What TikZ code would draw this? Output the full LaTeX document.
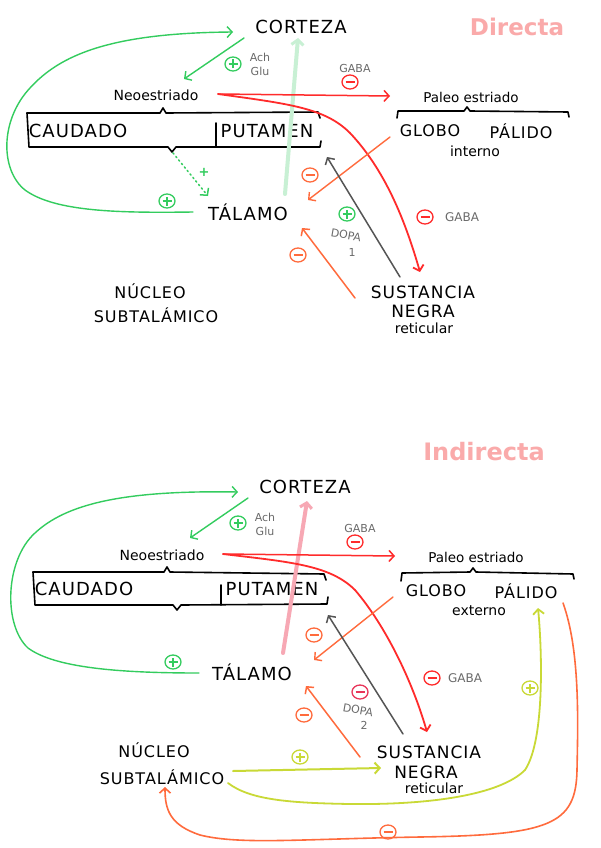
\documentclass[tikz,border=0pt]{standalone}
\usepackage{fontspec}
\setmainfont{DejaVu Sans}
\newfontfamily\capsf[LetterSpace=6]{DejaVu Sans}
\usetikzlibrary{arrows.meta,shapes.geometric}
\definecolor{cgreen}{HTML}{33CC5E}
\definecolor{cpale}{HTML}{C8F0D4}
\definecolor{cred}{HTML}{FF2B2B}
\definecolor{corange}{HTML}{FF6B3D}
\definecolor{cgrayline}{HTML}{555555}
\definecolor{cgraytext}{HTML}{6A6A6A}
\definecolor{cpinkt}{HTML}{FAAAAA}
\definecolor{cpinka}{HTML}{F7A8B4}
\definecolor{cyg}{HTML}{C9D936}
\definecolor{ccrim}{HTML}{E8365A}
\begin{document}
\begin{tikzpicture}[x=1pt,y=-1pt,
  capL/.style={font=\capsf\fontsize{18}{20}\selectfont,inner sep=0pt},
  capM/.style={font=\capsf\fontsize{17}{19}\selectfont,inner sep=0pt},
  capS/.style={font=\capsf\fontsize{16}{18}\selectfont,inner sep=0pt},
  txt/.style={font=\fontsize{14}{16}\selectfont,inner sep=0pt},
  lbl/.style={font=\fontsize{11}{12}\selectfont,text=cgraytext,inner sep=0pt},
  ttl/.style={font=\bfseries\fontsize{23}{25}\selectfont,text=cpinkt,inner sep=0pt},
  brc/.style={line width=1.6pt,line join=round,line cap=round},
  arr/.style={line width=#1,line cap=round,-{Straight Barb[length=5pt,width=11pt]}},
  sgn/.style={draw=#1,line width=1.3pt,ellipse,minimum width=16pt,minimum height=14pt,inner sep=0pt},
  plusn/.style={sgn=#1,path picture={\draw[#1,line width=1.2pt]
      ([xshift=-4.5pt]path picture bounding box.center) -- ([xshift=4.5pt]path picture bounding box.center)
      ([yshift=-4.5pt]path picture bounding box.center) -- ([yshift=4.5pt]path picture bounding box.center);}},
  minusn/.style={sgn=#1,path picture={\draw[#1,line width=1.2pt]
      ([xshift=-4.5pt]path picture bounding box.center) -- ([xshift=4.5pt]path picture bounding box.center);}}
]
\fill[white] (0,0) rectangle (600,848);
\useasboundingbox (0,0) rectangle (600,848);

%================ DIRECTA ================
\node[capL] (cort1) at (301,27) {CORTEZA};
\node[ttl] (dir) at (517,27) {Directa};
\node[txt] (neo1) at (156,95) {Neoestriado};
\node[capL] (cau1) at (78,131) {CAUDADO};
\node[capL] (put1) at (267,131) {PUTAMEN};
\node[txt,font=\fontsize{13.5}{15}\selectfont] (pal1) at (471,97) {Paleo estriado};
\node[capS] (glo1) at (430,131) {GLOBO};
\node[capS] (pali1) at (521,131) {PÁLIDO};
\node[txt] (int1) at (475,151) {interno};
\node[capL] (tal1) at (248,212) {TÁLAMO};
\node[capM] (sus1) at (423,292) {SUSTANCIA};
\node[capM] (neg1) at (423,311) {NEGRA};
\node[txt] (ret1) at (424,328) {reticular};
\node[capS] (nuc1) at (150,291) {NÚCLEO};
\node[capS] (sub1) at (156,315) {SUBTALÁMICO};

\node[lbl] (ach1) at (260,57) {Ach};
\node[lbl] (glu1) at (260,71) {Glu};
\node[lbl] (gaba1a) at (355,68) {GABA};
\node[lbl,font=\fontsize{12}{13}\selectfont] (gaba1b) at (462,217) {GABA};
\node[lbl,rotate=-10] (dopa1) at (346,235) {DOPA};
\node[lbl] (one1) at (352,252) {1};

\node[plusn=cgreen] (pl1a) at (233,64) {};
\node[plusn=cgreen] (pl1b) at (167,201) {};
\node[text=cgreen,font=\bfseries\fontsize{13}{13}\selectfont,inner sep=0pt] (pl1plus) at (204,172) {+};
\node[minusn=cred] (mi1a) at (350,82) {};
\node[minusn=cred] (mi1b) at (425,217) {};
\node[minusn=corange] (mi1c) at (310,175) {};
\node[plusn=cgreen] (pl1c) at (347,214) {};
\node[minusn=corange] (mi1d) at (298,255) {};

% braces
\draw[brc] (27,113) -- (160,113) -- (163,108) -- (166,113) -- (318,112) -- (320,118);
\draw[brc] (27,113) -- (29,147) -- (168,147) -- (172,152) -- (176,147) -- (320,147) -- (321,141);
\draw[brc] (216,123) -- (216,147);
\draw[brc] (397,118) -- (398,111) -- (464,111) -- (467,107) -- (470,111) -- (568,112) -- (569,117);

% connectors
\coordinate (g1a) at (193,212);
\coordinate (g1b) at (233,32);
\draw[arr=1.4pt,cgreen] (g1a) .. controls (120,213) and (55,212) .. (25,190)
   .. controls (0,170) and (0,120) .. (30,88) .. controls (60,55) and (110,33) .. (g1b);
\coordinate (g2a) at (244,38);
\coordinate (g2b) at (184,79);
\draw[arr=1.4pt,cgreen] (g2a) -- (g2b);
\coordinate (pg1a) at (285,194);
\coordinate (pg1b) at (298,38);
\draw[arr=4pt,cpale,-{Straight Barb[length=5pt,width=12pt,line width=3pt]}] (pg1a) -- (pg1b);
\coordinate (dt1a) at (173,153);
\coordinate (dt1b) at (208,196);
\draw[arr=1.5pt,cgreen,dash pattern=on 1.5pt off 3pt] (dt1a) -- (dt1b);
\coordinate (r1a) at (218,94);
\coordinate (r1b) at (390,96);
\draw[arr=1.5pt,cred] (r1a) -- (r1b);
\coordinate (r2b) at (420,272);
\draw[arr=1.8pt,cred] (r1a) .. controls (290,104) and (325,108) .. (350,133)
   .. controls (385,170) and (405,220) .. (r2b);
\coordinate (o1a) at (390,137);
\coordinate (o1b) at (308,200);
\draw[arr=1.4pt,corange] (o1a) -- (o1b);
\coordinate (gr1a) at (400,277);
\coordinate (gr1b) at (327,157);
\draw[arr=1.5pt,cgrayline] (gr1a) -- (gr1b);
\coordinate (o2a) at (355,298);
\coordinate (o2b) at (302,228);
\draw[arr=1.5pt,corange] (o2a) -- (o2b);

%================ INDIRECTA ================
\node[capL] (cort2) at (305,487) {CORTEZA};
\node[ttl,font=\bfseries\fontsize{24}{26}\selectfont] (ind) at (484,452) {Indirecta};
\node[txt] (neo2) at (162,555) {Neoestriado};
\node[capL] (cau2) at (84,589) {CAUDADO};
\node[capL] (put2) at (272,589) {PUTAMEN};
\node[txt,font=\fontsize{13.5}{15}\selectfont] (pal2) at (476,557) {Paleo estriado};
\node[capS] (glo2) at (436,591) {GLOBO};
\node[capS] (pali2) at (526,591) {PÁLIDO};
\node[txt] (ext2) at (479,611) {externo};
\node[capL] (tal2) at (252,672) {TÁLAMO};
\node[capM] (sus2) at (429,752) {SUSTANCIA};
\node[capM] (neg2) at (426,772) {NEGRA};
\node[txt] (ret2) at (434,788) {reticular};
\node[capS] (nuc2) at (154,750) {NÚCLEO};
\node[capS] (sub2) at (162,777) {SUBTALÁMICO};

\node[lbl] (ach2) at (265,517) {Ach};
\node[lbl] (glu2) at (265,531) {Glu};
\node[lbl] (gaba2a) at (360,528) {GABA};
\node[lbl,font=\fontsize{12}{13}\selectfont] (gaba2b) at (465,678) {GABA};
\node[lbl,rotate=-10] (dopa2) at (358,710) {DOPA};
\node[lbl] (two2) at (364,725) {2};

\node[plusn=cgreen] (pl2g) at (238,523) {};
\node[minusn=cred] (mi2a) at (355,542) {};
\node[minusn=cred] (mi2r) at (432,678) {};
\node[minusn=corange] (mi2b) at (314,635) {};
\node[minusn=ccrim] (mi2c) at (360,692) {};
\node[minusn=corange] (mi2d) at (304,715) {};
\node[plusn=cgreen] (pl2a) at (173,662) {};
\node[plusn=cyg] (pl2b) at (300,757) {};
\node[plusn=cyg] (pl2c) at (530,688) {};
\node[minusn=corange] (mi2e) at (388,832) {};

% braces
\draw[brc] (33,572) -- (164,572) -- (167,567) -- (170,572) -- (324,574) -- (326,580);
\draw[brc] (33,572) -- (35,605) -- (173,605) -- (177,610) -- (181,605) -- (327,604) -- (328,597);
\draw[brc] (221,585) -- (221,605);
\draw[brc] (401,581) -- (402,573) -- (470,572) -- (473,568) -- (476,572) -- (573,574) -- (574,579);

% connectors
\coordinate (g3a) at (199,673);
\coordinate (g3b) at (238,492);
\draw[arr=1.4pt,cgreen] (g3a) .. controls (120,673) and (55,668) .. (28,648)
   .. controls (3,625) and (5,560) .. (35,533) .. controls (65,505) and (120,490) .. (g3b);
\coordinate (g4a) at (248,498);
\coordinate (g4b) at (190,538);
\draw[arr=1.4pt,cgreen] (g4a) -- (g4b);
\coordinate (pk2a) at (283,653);
\coordinate (pk2b) at (307,501);
\draw[arr=4pt,cpinka,-{Straight Barb[length=5pt,width=12pt,line width=3pt]}] (pk2a) -- (pk2b);
\coordinate (r3a) at (223,554);
\coordinate (r3b) at (395,556);
\draw[arr=1.5pt,cred] (r3a) -- (r3b);
\coordinate (r4b) at (427,732);
\draw[arr=1.8pt,cred] (r3a) .. controls (290,562) and (330,565) .. (355,590)
   .. controls (385,625) and (412,680) .. (r4b);
\coordinate (o3a) at (393,597);
\coordinate (o3b) at (314,660);
\draw[arr=1.4pt,corange] (o3a) -- (o3b);
\coordinate (gr2a) at (403,734);
\coordinate (gr2b) at (328,615);
\draw[arr=1.5pt,cgrayline] (gr2a) -- (gr2b);
\coordinate (o4a) at (360,757);
\coordinate (o4b) at (306,686);
\draw[arr=1.5pt,corange] (o4a) -- (o4b);
\coordinate (y1a) at (233,771);
\coordinate (y1b) at (381,768);
\draw[arr=2pt,cyg] (y1a) -- (y1b);
\coordinate (y2a) at (228,783);
\coordinate (y2b) at (538,608);
\draw[arr=1.8pt,cyg] (y2a) .. controls (250,800) and (290,803) .. (350,804)
   .. controls (430,805) and (500,795) .. (525,770) .. controls (545,740) and (542,650) .. (y2b);
\coordinate (o5a) at (563,603);
\coordinate (o5b) at (165,787);
\draw[arr=1.6pt,corange] (o5a) .. controls (580,650) and (578,720) .. (577,770)
   .. controls (576,825) and (550,835) .. (420,837) .. controls (300,839) and (240,845) .. (200,835)
   .. controls (170,825) and (165,810) .. (o5b);
\end{tikzpicture}
\end{document}
